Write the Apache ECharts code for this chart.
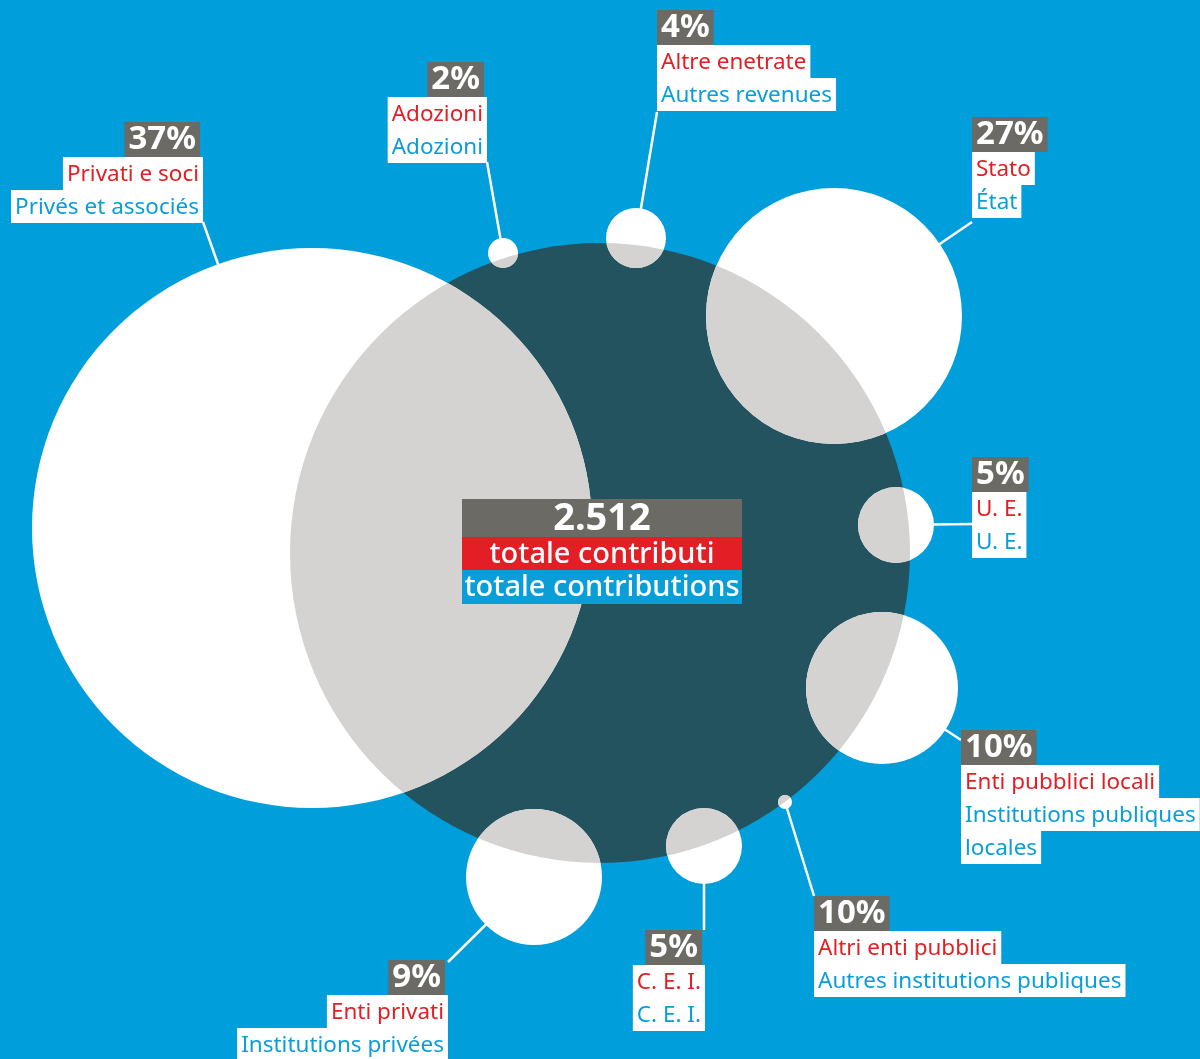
<!DOCTYPE html>
<html>
<head>
<meta charset="utf-8">
<script src="https://cdn.jsdelivr.net/npm/echarts@6/dist/echarts.min.js"></script>
<style>
  html, body { margin: 0; padding: 0; background: #009edb; }
  #chart { width: 1200px; height: 1059px; }
</style>
</head>
<body>
<div id="chart"></div>
<script>
// ---- data --------------------------------------------------------------
const categoriesIt = ['Privati e soci', 'Adozioni', 'Altre enetrate', 'Stato', 'U. E.',
  'Enti pubblici locali', 'Altri enti pubblici', 'C. E. I.', 'Enti privati'];
const categoriesFr = [['Privés et associés'], ['Adozioni'], ['Autres revenues'], ['État'], ['U. E.'],
  ['Institutions publiques', 'locales'], ['Autres institutions publiques'], ['C. E. I.'], ['Institutions privées']];
const shares = [37, 2, 4, 27, 5, 10, 10, 5, 9];
// bubbles in chart units (x, y, radius)
const bubbleX = [312, 503, 636, 834, 896, 882, 785, 704, 534];
const bubbleY = [528, 253, 238, 316, 525, 688, 802, 846, 877];
const bubbleR = [280, 15, 30, 128, 38, 76, 7, 38, 68];
const total = 2512;
const core = [600, 553, 310];

// ---- layout of the callouts ---------------------------------------------
const labelLayout = [
  { x: 203, y: 122, align: 'right', end: [203, 222] },
  { x: 487, y: 62, align: 'right', end: [487, 162] },
  { x: 657, y: 10, align: 'left', end: [657, 112] },
  { x: 972, y: 117, align: 'left', end: [972, 222] },
  { x: 972, y: 457, align: 'left', end: [972, 524] },
  { x: 961, y: 730, align: 'left', end: [961, 740] },
  { x: 814, y: 896, align: 'left', end: [814, 896] },
  { x: 705, y: 930, align: 'right', end: [704, 930] },
  { x: 448, y: 960, align: 'right', end: [448, 962] }
];

const FONT = "'Noto Sans', sans-serif";
const colors = {
  bg: '#009edb',
  core: '#245360',
  overlap: '#d4d3d2',
  tag: '#6b6a64',
  red: '#e31e24',
  blue: '#0a9ed9'
};

const formatIt = n => String(n).replace(/\B(?=(\d{3})+(?!\d))/g, '.');

const chart = echarts.init(document.getElementById('chart'));

const textEl = (text, x, y, align, font, fill, bg, lineHeight, padTop) => ({
  type: 'text',
  style: {
    text, x, y, font, fill,
    align, textAlign: align,
    verticalAlign: 'top', textVerticalAlign: 'top',
    backgroundColor: bg,
    padding: [padTop, 4, 0, 4],
    lineHeight: lineHeight - padTop
  }
});

const coreShape = api => {
  const c = api.coord([core[0], core[1]]);
  return { cx: c[0], cy: c[1], r: api.size([core[2], 0])[0] };
};

chart.setOption({
  backgroundColor: colors.bg,
  animation: false,
  grid: { left: 0, right: 0, top: 0, bottom: 0 },
  xAxis: { type: 'value', min: 0, max: 1200, show: false },
  yAxis: { type: 'value', min: 0, max: 1059, inverse: true, show: false },
  series: [
    {
      // leader lines
      type: 'custom',
      z: 1,
      data: bubbleX.map((x, i) => [x, bubbleY[i]]),
      renderItem: (params, api) => {
        const i = params.dataIndex;
        const a = api.coord([api.value(0), api.value(1)]);
        const b = api.coord(labelLayout[i].end);
        return {
          type: 'line',
          shape: { x1: a[0], y1: a[1], x2: b[0], y2: b[1] },
          style: { stroke: '#fff', lineWidth: 2.5 }
        };
      }
    },
    {
      // total circle
      type: 'custom',
      z: 2,
      data: [core],
      renderItem: (params, api) => ({
        type: 'circle',
        shape: coreShape(api),
        style: { fill: colors.core }
      })
    },
    {
      // contribution bubbles
      type: 'custom',
      z: 3,
      data: bubbleX.map((x, i) => [x, bubbleY[i], bubbleR[i]]),
      renderItem: (params, api) => {
        const c = api.coord([api.value(0), api.value(1)]);
        const shape = { cx: c[0], cy: c[1], r: api.size([api.value(2), 0])[0] };
        return {
          type: 'group',
          children: [
            { type: 'circle', shape, style: { fill: '#fff' } },
            {
              type: 'circle',
              shape,
              style: { fill: colors.overlap },
              clipPath: { type: 'circle', shape: coreShape(api) }
            }
          ]
        };
      }
    },
    {
      // total block
      type: 'custom',
      z: 4,
      data: [core],
      renderItem: (params, api) => {
        const s = coreShape(api);
        const left = s.cx - 138, top = s.cy - 54, w = 280;
        const rows = [
          { h: 38, fill: colors.tag, text: formatIt(total), font: `bold 38px ${FONT}` },
          { h: 33, fill: colors.red, text: 'totale contributi', font: `500 29px ${FONT}` },
          { h: 34, fill: colors.blue, text: 'totale contributions', font: `500 29px ${FONT}` }
        ];
        const children = [];
        let y = top;
        rows.forEach(r => {
          children.push({ type: 'rect', shape: { x: left, y, width: w, height: r.h }, style: { fill: r.fill } });
          children.push({
            type: 'text',
            style: {
              text: r.text, x: left + w / 2, y: y + r.h / 2 + 1, font: r.font, fill: '#fff',
              align: 'center', textAlign: 'center', verticalAlign: 'middle', textVerticalAlign: 'middle'
            }
          });
          y += r.h;
        });
        return { type: 'group', children };
      }
    },
    {
      // callouts
      type: 'custom',
      z: 5,
      data: shares.map((s, i) => [labelLayout[i].x, labelLayout[i].y]),
      renderItem: (params, api) => {
        const i = params.dataIndex;
        const p = api.coord([api.value(0), api.value(1)]);
        const align = labelLayout[i].align;
        const tagX = align === 'right' ? p[0] - 3 : p[0];
        const children = [
          textEl(shares[i] + '%', tagX, p[1], align, `bold 33px ${FONT}`, '#fff', colors.tag, 35, 1)
        ];
        let y = p[1] + 35;
        children.push(textEl(categoriesIt[i], p[0], y, align, `22.5px ${FONT}`, colors.red, '#fff', 33, 3));
        y += 33;
        categoriesFr[i].forEach(line => {
          children.push(textEl(line, p[0], y, align, `22.5px ${FONT}`, colors.blue, '#fff', 33, 3));
          y += 33;
        });
        return { type: 'group', children };
      }
    }
  ]
});
</script>
</body>
</html>
